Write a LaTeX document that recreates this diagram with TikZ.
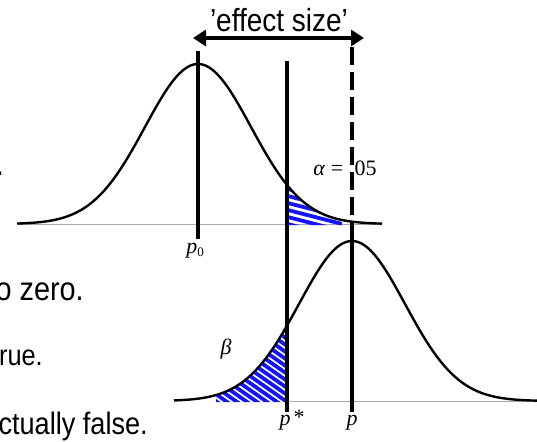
\documentclass[tikz,border=0pt]{standalone}
\usepackage{fontspec}
\setmainfont{Liberation Sans}
\newfontfamily\tms{Liberation Serif}
\usetikzlibrary{arrows.meta}
\definecolor{hatchblue}{RGB}{20,20,255}
\definecolor{axisgray}{RGB}{170,170,170}
\begin{document}
\begin{tikzpicture}[x=1pt,y=-1pt,
  curve/.style={line width=2.4pt},
  axisline/.style={line width=1pt, axisgray},
  vbar/.style={line width=4.5pt},
  hatch/.style={hatchblue, line width=3.8pt, line cap=round},
  sidetext/.style={inner sep=0pt, anchor=base east},
  lbl/.style={inner sep=0pt, anchor=base, font=\tms\fontsize{22}{26}\selectfont}]
\useasboundingbox (0,0) rectangle (537,441);
\fill[white] (0,0) rectangle (537,441);

% base lines
\coordinate (b1L) at (17,224);
\coordinate (b1R) at (382,224);
\coordinate (b2L) at (287,401);
\coordinate (b2R) at (537,401);
\draw[axisline] (b1L) -- (b1R);
\draw[axisline] (b2L) -- (b2R);

% hatched alpha region
\begin{scope}
\clip (287,225) -- plot[domain=287:382,samples=60] (\x,{224-160*exp(-((\x-198)/53)^2/2)}) -- (382,225) -- cycle;
\clip (280,150) rectangle (342,230);
\foreach \k in {0,...,12} \draw[hatch] (280,166+7*\k) -- (350,184+7*\k);
\end{scope}

% hatched beta region
\begin{scope}
\clip (174,402) -- plot[domain=174:287,samples=80] (\x,{401-160*exp(-((\x-352)/53)^2/2)}) -- (287,402) -- cycle;
\clip (216,300) rectangle (290,420);
\foreach \k in {0,...,22} \draw[hatch] (90+10*\k,320) -- (220+10*\k,411);
\end{scope}

% curves
\draw[curve] plot[domain=17:382,samples=160] (\x,{224-160*exp(-((\x-198)/53)^2/2)});
\draw[curve] plot[domain=174:537,samples=160] (\x,{401-160*exp(-((\x-352)/53)^2/2)});

% vertical bars
\coordinate (p0top) at (198,51);
\coordinate (p0bot) at (198,239);
\coordinate (pstop) at (287,61);
\coordinate (psbot) at (287,412);
\coordinate (ptop) at (352,47);
\coordinate (pmid) at (352,222);
\coordinate (pbot) at (352,412);
\draw[vbar] (p0top) -- (p0bot);
\draw[vbar] (pstop) -- (psbot);
\draw[vbar, dash pattern=on 18pt off 7pt] (ptop) -- (pmid);
\draw[vbar] (pmid) -- (pbot);

% effect size arrow
\coordinate (aL) at (193,38);
\coordinate (aR) at (364,38);
\draw[line width=3.8pt, {Triangle[length=13pt,width=16pt]}-{Triangle[length=13pt,width=16pt]}] (aL) -- (aR);
\node[inner sep=0pt, anchor=base] (eff) at (279,32) {\fontsize{32}{36}\selectfont\scalebox{0.875}[1]{'effect size'}};

% labels
\node[lbl] (alpha) at (345,175) {{\itshape α}\hspace{6pt}=\hspace{6pt}.05};
\node[lbl] (p0lab) at (195,253) {\itshape p\raisebox{-3pt}{\upshape\fontsize{13}{13}\selectfont 0}};
\node[lbl] (pslab) at (292,425) {\itshape p\hspace{3pt}\raisebox{1pt}{\upshape *}};
\node[lbl] (plab) at (352,425) {\itshape p};
\node[lbl] (beta) at (226,354) {\itshape β};

% cut-off side text
\node[sidetext] (t1) at (4,175) {\fontsize{33}{38}\selectfont\scalebox{0.875}[1]{.}};
\node[sidetext] (t2) at (84,300) {\fontsize{33}{38}\selectfont\scalebox{0.875}[1]{to zero.}};
\node[sidetext] (t3) at (43,365) {\fontsize{29}{34}\selectfont\scalebox{0.875}[1]{true.}};
\node[sidetext] (t4) at (148,434) {\fontsize{31}{36}\selectfont\scalebox{0.875}[1]{actually false.}};
\end{tikzpicture}
\end{document}
